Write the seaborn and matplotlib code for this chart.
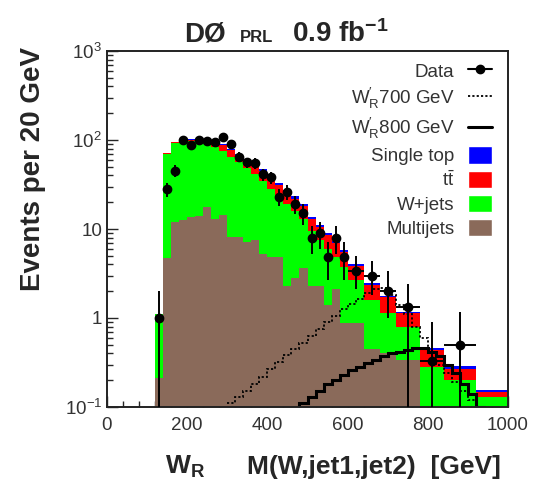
import numpy as np
import pandas as pd
import matplotlib
matplotlib.use('Agg')
import matplotlib.pyplot as plt
import seaborn as sns
from matplotlib.lines import Line2D
from matplotlib.patches import Patch
from matplotlib.ticker import FixedLocator, FixedFormatter, LogLocator, MultipleLocator, NullFormatter

# binning of the background / data histogram (GeV)
bin_edges = [120, 140, 160, 180, 200, 220, 240, 260, 280, 300, 320, 340, 360,
             380, 400, 420, 440, 460, 480, 500, 520, 540, 560, 580, 600,
             640, 680, 720, 780, 840, 920, 1000]

# background components, events per 20 GeV (one value per bin)
multijets = [0.21, 4.7, 12, 12.5, 13.5, 14, 17.5, 13, 14.5, 8.2, 8.2, 7.2, 7.5,
             5.3, 4.9, 4.9, 2.3, 2.8, 3.6, 2.3, 2.3, 1.4, 2.1, 0.88,
             0.88, 0.45, 0.4, 0.34, 0.0, 0.0, 0.0]
wjets = [0.9, 65, 80, 85.5, 83.5, 81, 74.5, 71, 61.5, 56.8, 47.8, 40.8, 34.5,
         29.7, 23.1, 18.1, 16.7, 13.2, 9.4, 7.2, 5.2, 4.6, 2.7, 2.9,
         1.8, 1.15, 0.73, 0.46, 0.28, 0.2, 0.13]
ttbar = [0.0, 1.0, 2.0, 3.0, 3.0, 4.0, 6.0, 10, 12, 12, 12, 11, 10,
         10, 9, 8, 7, 6, 5, 3.5, 3.0, 2.5, 2.2, 1.7,
         1.2, 0.75, 0.57, 0.33, 0.16, 0.07, 0.018]
single_top = [0.0, 0.5, 1.0, 1.0, 2.0, 2.0, 2.0, 3.0, 3.0, 3.0, 2.0, 2.0, 2.0,
              2.0, 2.0, 2.0, 1.5, 1.5, 1.0, 0.8, 0.7, 0.5, 0.4, 0.3,
              0.2, 0.1, 0.08, 0.05, 0.02, 0.02, 0.007]

# data, events per 20 GeV, with error bar ends
data_vals = [1.0, 28, 45, 99, 89, 99, 98, 96, 108, 90, 65, 56, 55, 41, 38,
             23, 26, 19, 15, 8.0, 9.0, 4.9, 8.0, 4.9, 3.4, 3.0, 2.0, 1.33,
             0.33, 0.5]
data_low = [0.01, 23, 38.5, 89, 80, 89, 88, 86, 98, 80.5, 57, 48.5, 47.5,
            34.6, 32, 18.2, 21, 14.6, 11.1, 5.2, 6.0, 2.7, 5.2, 2.7, 2.1,
            1.8, 1.0, 0.05, 0.01, 0.01]
data_high = [2.0, 33, 52, 109, 98, 109, 108, 106, 118, 99.5, 73, 63.5, 62.5,
             47.4, 44, 27.8, 31, 23.4, 18.9, 10.8, 12, 7.1, 10.8, 7.1, 5.0,
             4.4, 3.4, 2.4, 0.9, 1.18]

# W'_R signal templates, 20 GeV bins from 300 to 1000 GeV
sig_edges = list(range(300, 1001, 20))
sig700 = [0.11, 0.13, 0.15, 0.18, 0.22, 0.27, 0.32, 0.38, 0.45, 0.52, 0.62,
          0.75, 0.9, 1.05, 1.25, 1.45, 1.65, 1.9, 2.1, 2.2, 1.8, 1.4, 1.1,
          0.8, 0.6, 0.42, 0.3, 0.24, 0.19, 0.15, 0.12, 0.1, 0.08, 0.07, 0.06]
sig800 = [0.05, 0.05, 0.05, 0.05, 0.05, 0.06, 0.07, 0.08, 0.09, 0.11, 0.13,
          0.15, 0.18, 0.2, 0.23, 0.26, 0.28, 0.31, 0.34, 0.37, 0.4, 0.42,
          0.44, 0.46, 0.46, 0.42, 0.37, 0.3, 0.24, 0.18, 0.14, 0.1, 0.08,
          0.06, 0.05]

# seaborn stacks the first hue level on top
processes = ['Single top', 'ttbar', 'W+jets', 'Multijets']
colors = {'Multijets': '#8a6a5a', 'W+jets': '#00ff00',
          'ttbar': '#ff0000', 'Single top': '#0000ff'}

edges = np.array(bin_edges, dtype=float)
centers = 0.5 * (edges[:-1] + edges[1:])
half_w = 0.5 * np.diff(edges)

bkg = pd.concat([
    pd.DataFrame({'mass': centers, 'events': vals, 'process': name})
    for name, vals in zip(['Multijets', 'W+jets', 'ttbar', 'Single top'],
                          [multijets, wjets, ttbar, single_top])
], ignore_index=True)

sns.set_style('ticks')
plt.rcParams['font.family'] = ['Liberation Sans', 'DejaVu Sans']
plt.rcParams['mathtext.fontset'] = 'custom'
plt.rcParams['mathtext.rm'] = 'Liberation Sans'
plt.rcParams['mathtext.it'] = 'Liberation Sans:italic'
plt.rcParams['mathtext.bf'] = 'Liberation Sans:bold'

fig = plt.figure(figsize=(5.38, 4.87), dpi=100)
ax = fig.add_axes([107 / 538, 80 / 487, 401 / 538, 356 / 487])
ax.set_yscale('log')

sns.histplot(data=bkg, x='mass', weights='events', hue='process',
             hue_order=processes, palette=colors, multiple='stack',
             bins=bin_edges, element='bars', fill=True, alpha=1,
             linewidth=0, legend=False, ax=ax)

# signal templates
ax.stairs(sig700, sig_edges, color='k', lw=1.3, linestyle=(0, (1.2, 1.2)),
          baseline=None)
ax.stairs(sig800, sig_edges, color='k', lw=2.2, baseline=None)

# data
n = len(data_vals)
yv = np.array(data_vals)
yerr = [yv - np.array(data_low), np.array(data_high) - yv]
ax.errorbar(centers[:n], yv, yerr=yerr, xerr=half_w[:n], fmt='o', color='k',
            ms=6, lw=1.4, capsize=0, zorder=5)

ax.set_xlim(0, 1000)
ax.set_ylim(0.1, 1000)
ax.set_xlabel('')
ax.set_ylabel('')
ax.xaxis.set_major_locator(MultipleLocator(200))
ax.xaxis.set_minor_locator(MultipleLocator(40))
ax.yaxis.set_major_locator(FixedLocator([0.1, 1, 10, 100, 1000]))
ax.yaxis.set_major_formatter(FixedFormatter(
    [r'$10^{-1}$', '1', '10', r'$10^{2}$', r'$10^{3}$']))
ax.yaxis.set_minor_locator(LogLocator(base=10, subs=np.arange(2, 10)))
ax.yaxis.set_minor_formatter(NullFormatter())
ax.tick_params(which='both', direction='in', top=False, right=False,
               labelsize=13.5, labelcolor='#333333', width=1)
ax.tick_params(which='major', length=8)
ax.tick_params(which='minor', length=4)
ax.tick_params(axis='x', pad=7)
for sp in ax.spines.values():
    sp.set_linewidth(1.4)
    sp.set_color('#222222')

# legend
handles = [Line2D([], [], color='k', marker='o', ms=6, lw=1.5),
           Line2D([], [], color='k', lw=1.3, linestyle=(0, (1.2, 1.2))),
           Line2D([], [], color='k', lw=2.2),
           Patch(fc=colors['Single top']), Patch(fc=colors['ttbar']),
           Patch(fc=colors['W+jets']), Patch(fc=colors['Multijets'])]
labels = ['Data', r"$\mathregular{W^{\prime}_{R}}$700 GeV",
          r"$\mathregular{W^{\prime}_{R}}$800 GeV",
          'Single top', r'$\mathregular{t\bar{t}}$', 'W+jets', 'Multijets']
ax.legend(handles, labels, loc='upper right', bbox_to_anchor=(0.96, 0.97),
          markerfirst=False, frameon=False, fontsize=13.5, handlelength=1.3,
          handleheight=1.05, labelspacing=0.27, handletextpad=0.7,
          borderaxespad=0, borderpad=0, labelcolor='#333333')

# axis titles and header
fig.text(33 / 538, 1 - 47 / 487, 'Events per 20 GeV', rotation=90,
         ha='center', va='top', fontsize=20, weight='bold')
fig.text(165 / 538, 1 - 474 / 487, r'$\mathbf{W_R}$', ha='left',
         va='baseline', fontsize=19)
fig.text(247 / 538, 1 - 474 / 487, 'M(W,jet1,jet2)  [GeV]', ha='left',
         va='baseline', fontsize=19, weight='bold')
fig.text(184 / 538, 1 - 42 / 487, 'DØ', ha='left', va='baseline',
         fontsize=20, weight='bold')
fig.text(240 / 538, 1 - 42 / 487, 'PRL', ha='left', va='baseline',
         fontsize=12, weight='bold')
fig.text(292 / 538, 1 - 42 / 487, r'$\mathbf{0.9\ fb^{-1}}$', ha='left',
         va='baseline', fontsize=20)

fig.savefig('out.png', dpi=100)
